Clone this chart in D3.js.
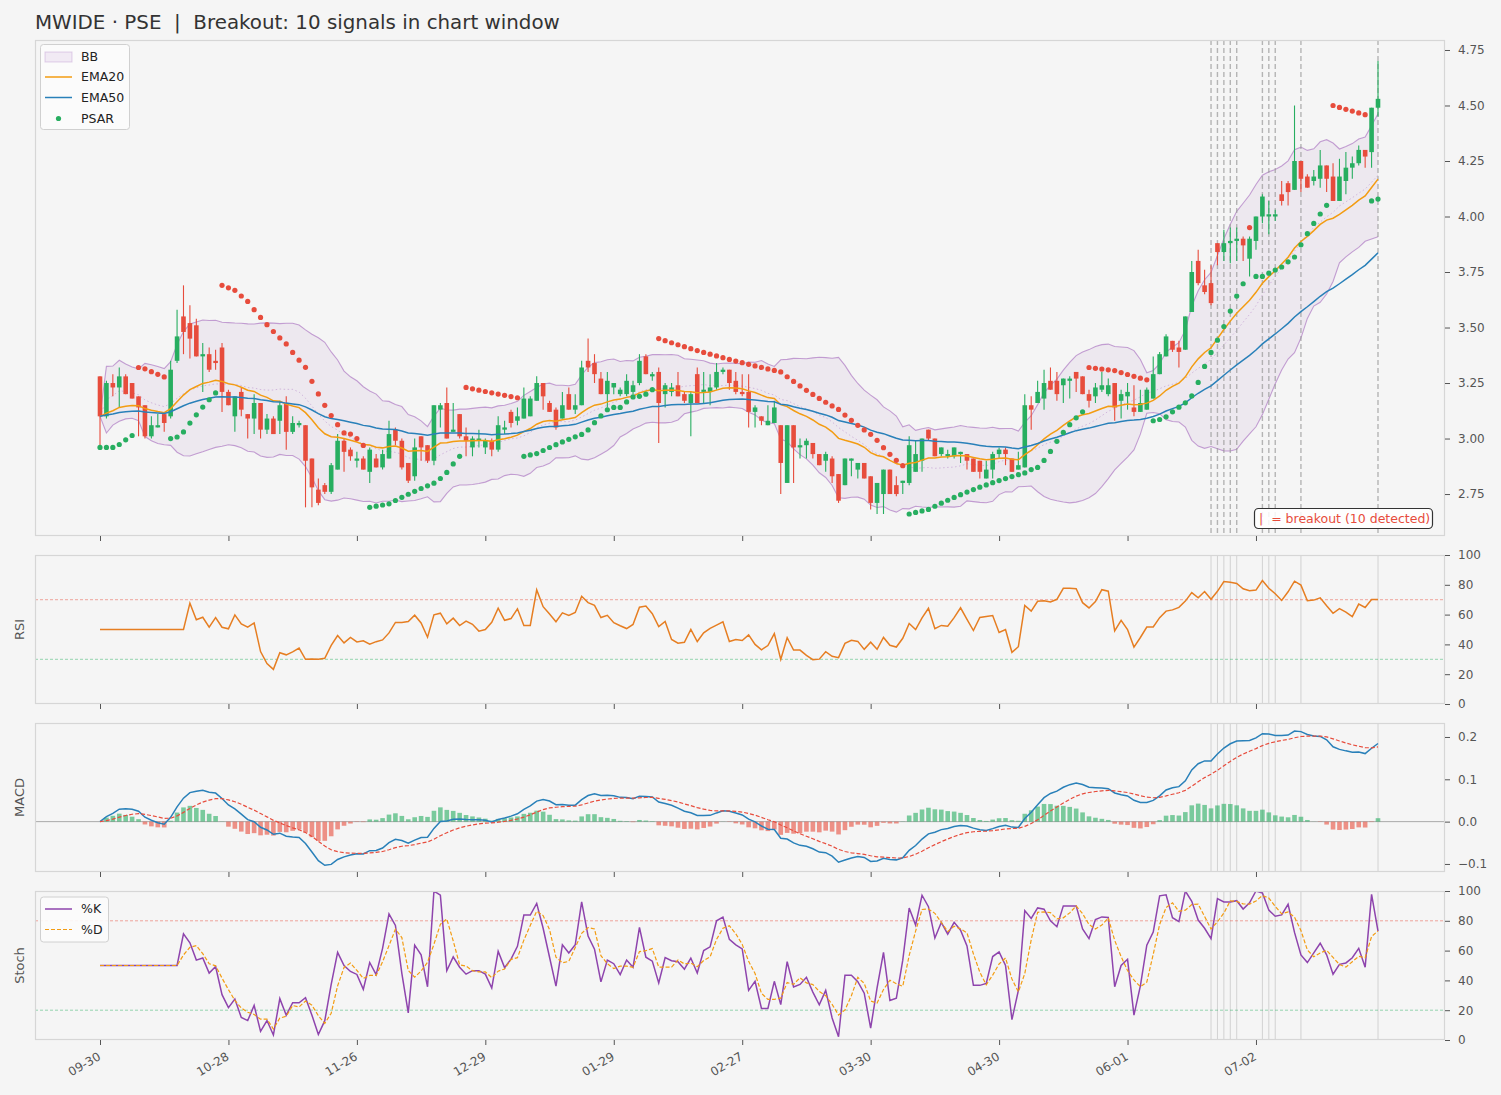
<!DOCTYPE html>
<html><head><meta charset="utf-8">
<script src="https://cdn.jsdelivr.net/npm/d3@7"></script>
<style>
body{margin:0;background:#f5f5f5;}
text{font-family:"DejaVu Sans","Liberation Sans",sans-serif;white-space:pre;}
</style>
</head><body>
<svg id="c" width="1501" height="1095"></svg>
<script>
// ---------- DATA ----------
const opens = [3.28,3.10,3.25,3.23,3.28,3.25,3.19,3.15,3.01,3.05,3.11,3.10,3.35,3.55,3.52,3.51,3.37,3.38,3.35,3.41,
3.21,3.10,3.21,3.11,3.09,3.16,3.04,3.09,3.08,3.16,3.03,3.06,3.06,2.91,2.77,2.79,2.76,2.86,2.99,2.95,
2.90,2.91,2.85,2.91,2.87,2.91,3.04,2.99,2.89,2.83,3.01,2.97,2.90,3.13,3.16,3.03,3.11,3.01,2.96,2.99,
2.96,2.99,2.95,3.04,3.12,3.08,3.09,3.10,3.17,3.25,3.16,3.13,3.09,3.20,3.13,3.15,3.35,3.34,3.27,3.20,
3.23,3.20,3.20,3.21,3.25,3.37,3.28,3.30,3.20,3.21,3.24,3.20,3.16,3.29,3.21,3.21,3.23,3.30,3.31,3.26,
3.21,3.21,3.12,3.10,3.06,3.07,3.06,2.80,3.06,2.96,2.97,2.98,2.93,2.90,2.91,2.84,2.79,2.90,2.86,2.89,
2.83,2.71,2.75,2.86,2.79,2.80,2.80,2.85,2.90,3.04,3.00,2.93,2.92,2.92,2.93,2.93,2.91,2.90,2.82,2.86,
2.93,2.95,2.91,2.86,2.87,3.15,3.16,3.18,3.26,3.26,3.24,3.26,3.30,3.28,3.20,3.19,3.22,3.20,3.25,3.17,
3.19,3.14,3.12,3.13,3.18,3.29,3.37,3.44,3.41,3.40,3.57,3.80,3.69,3.70,3.88,3.84,3.88,3.89,3.90,3.81,
3.89,4.00,4.00,4.00,4.10,4.15,4.12,4.25,4.18,4.16,4.17,4.23,4.18,4.07,4.16,4.22,4.24,4.30,4.29,4.49];
const highs = [3.28,3.26,3.29,3.32,3.29,3.25,3.19,3.15,3.10,3.11,3.11,3.35,3.58,3.69,3.60,3.54,3.43,3.41,3.40,3.43,
3.22,3.19,3.23,3.11,3.20,3.16,3.11,3.10,3.17,3.19,3.10,3.08,3.06,2.91,2.82,2.80,2.89,3.02,3.00,2.96,
2.94,2.92,2.96,2.93,2.95,3.08,3.05,3.00,2.89,3.00,3.01,2.97,3.15,3.16,3.23,3.16,3.11,3.05,3.01,3.04,
3.00,3.00,3.10,3.08,3.13,3.14,3.23,3.19,3.28,3.25,3.17,3.14,3.21,3.23,3.20,3.35,3.45,3.38,3.30,3.30,
3.25,3.23,3.29,3.26,3.38,3.38,3.30,3.32,3.25,3.25,3.30,3.21,3.21,3.32,3.30,3.29,3.34,3.32,3.31,3.30,
3.29,3.29,3.15,3.10,3.15,3.17,3.06,3.06,3.06,3.00,3.00,2.98,2.93,2.94,2.92,2.84,2.91,2.91,2.89,2.89,
2.83,2.80,2.86,2.86,2.83,2.81,3.01,2.99,3.00,3.04,3.00,2.96,2.95,2.96,2.94,2.93,2.91,2.90,2.90,2.94,
2.96,2.96,2.91,2.94,3.20,3.19,3.26,3.31,3.32,3.30,3.27,3.28,3.30,3.28,3.22,3.25,3.30,3.27,3.25,3.22,
3.25,3.24,3.22,3.23,3.37,3.39,3.47,3.44,3.44,3.55,3.80,3.85,3.76,3.78,3.88,3.94,3.95,3.95,3.91,3.91,
4.00,4.10,4.07,4.03,4.16,4.16,4.50,4.25,4.19,4.21,4.30,4.23,4.24,4.26,4.29,4.27,4.32,4.30,4.49,4.70];
const lows = [2.96,3.09,3.19,3.14,3.20,3.18,3.01,3.00,3.00,3.05,3.03,3.09,3.34,3.38,3.36,3.37,3.21,3.30,3.31,3.12,
3.15,3.03,3.10,3.00,3.02,3.00,3.02,3.02,3.02,2.95,3.02,3.05,2.69,2.69,2.70,2.75,2.75,2.86,2.85,2.90,
2.87,2.86,2.80,2.87,2.86,2.91,2.97,2.86,2.80,2.81,2.90,2.89,2.88,3.05,3.00,3.03,3.00,2.92,2.92,2.96,
2.93,2.92,2.94,3.02,3.05,3.06,3.09,3.10,3.17,3.13,3.12,3.04,3.09,3.13,3.11,3.15,3.30,3.25,3.20,3.14,
3.20,3.19,3.19,3.20,3.24,3.29,3.26,2.98,3.14,3.19,3.19,3.16,3.01,3.16,3.16,3.15,3.22,3.29,3.22,3.20,
3.19,3.05,3.05,3.06,3.06,3.07,2.75,2.80,2.80,2.91,2.91,2.91,2.88,2.85,2.80,2.71,2.79,2.83,2.82,2.82,
2.68,2.66,2.66,2.75,2.74,2.75,2.79,2.85,2.85,2.99,2.92,2.92,2.91,2.91,2.89,2.86,2.85,2.82,2.82,2.82,
2.91,2.88,2.85,2.86,2.87,3.04,3.16,3.13,3.22,3.17,3.16,3.18,3.21,3.20,3.14,3.16,3.21,3.19,3.08,3.09,
3.13,3.10,3.12,3.13,3.18,3.29,3.37,3.39,3.32,3.40,3.57,3.69,3.65,3.60,3.78,3.80,3.79,3.80,3.80,3.73,
3.85,3.97,3.92,3.98,4.05,4.05,4.12,4.11,4.13,4.14,4.13,4.11,4.07,4.07,4.10,4.17,4.23,4.22,4.22,4.45];
const closes = [3.10,3.25,3.23,3.28,3.20,3.18,3.14,3.01,3.06,3.06,3.07,3.31,3.46,3.48,3.45,3.37,3.38,3.31,3.34,3.21,
3.15,3.19,3.13,3.09,3.16,3.04,3.09,3.02,3.15,3.03,3.07,3.07,2.90,2.78,2.71,2.76,2.88,2.99,2.94,2.92,
2.91,2.86,2.95,2.87,2.93,3.02,2.99,2.87,2.81,2.96,2.96,2.90,3.15,3.15,3.00,3.04,3.01,2.99,3.00,3.00,
2.99,2.95,3.06,3.05,3.07,3.10,3.18,3.18,3.25,3.19,3.12,3.05,3.15,3.13,3.15,3.32,3.32,3.29,3.20,3.26,
3.25,3.22,3.26,3.24,3.35,3.29,3.29,3.16,3.24,3.23,3.19,3.17,3.20,3.16,3.22,3.23,3.30,3.31,3.25,3.21,
3.20,3.12,3.14,3.08,3.08,3.14,2.89,3.06,2.96,2.97,2.99,2.93,2.88,2.93,2.83,2.72,2.91,2.91,2.89,2.82,
2.71,2.80,2.86,2.75,2.75,2.81,2.97,2.93,3.00,3.00,2.92,2.96,2.93,2.96,2.94,2.90,2.85,2.85,2.86,2.93,
2.95,2.93,2.85,2.88,3.15,3.13,3.21,3.25,3.22,3.20,3.27,3.27,3.27,3.20,3.17,3.23,3.24,3.24,3.14,3.20,
3.21,3.12,3.16,3.22,3.29,3.38,3.46,3.40,3.39,3.55,3.75,3.70,3.66,3.61,3.84,3.88,3.89,3.90,3.87,3.90,
4.00,4.09,4.01,4.01,4.07,4.11,4.25,4.17,4.13,4.18,4.23,4.17,4.07,4.18,4.22,4.24,4.30,4.27,4.49,4.53];
const breakoutIdx = [173,174,175,176,177,181,182,183,187,199];
const xTickIdx = [0,20,40,60,80,100,120,140,160,180];
const xTickLabels = ["09-30","10-28","11-26","12-29","01-29","02-27","03-30","04-30","06-01","07-02"];
const priceTicks = [2.75,3.00,3.25,3.50,3.75,4.00,4.25,4.50,4.75];
const pctTicks = [0,20,40,60,80,100];
const macdTicks = [-0.1,0.0,0.1,0.2];
const titleText = "MWIDE · PSE  |  Breakout: 10 signals in chart window";

// ---------- INDICATORS (derived from the OHLC above) ----------
const n = closes.length;
function ema(arr, span){const a=2/(span+1);const out=[arr[0]];for(let i=1;i<arr.length;i++)out.push(a*arr[i]+(1-a)*out[i-1]);return out;}
const ema20 = ema(closes,20), ema50 = ema(closes,50);
const bbMid=[],bbUp=[],bbLo=[];
for(let i=0;i<n;i++){const s=closes.slice(Math.max(0,i-19),i+1);const m=d3.mean(s);const sd=Math.sqrt(d3.mean(s,v=>(v-m)*(v-m)));bbMid.push(m);bbUp.push(m+2*sd);bbLo.push(m-2*sd);}
const rsi = closes.map((c,i)=>{if(i<14)return 50;let g=0,l=0;for(let j=i-13;j<=i;j++){const d=closes[j]-closes[j-1];if(d>0)g+=d;else l-=d;}if(g+l===0)return 50;if(l===0)return 100;return 100-100/(1+g/l);});
const e12=ema(closes,12), e26=ema(closes,26);
const macd = e12.map((v,i)=>v-e26[i]);
const sig = ema(macd,9);
const hist = macd.map((v,i)=>v-sig[i]);
const kLine = closes.map((c,i)=>{if(i<13)return 50;const hh=d3.max(highs.slice(i-13,i+1)),ll=d3.min(lows.slice(i-13,i+1));return hh===ll?50:100*(c-ll)/(hh-ll);});
const dLine = kLine.map((v,i)=>i<2?50:(kLine[i]+kLine[i-1]+kLine[i-2])/3);
const psar=[],psBull=[];
(function(){let bull=true,af=0.02,ep=highs[0];psar.push(lows[0]);psBull.push(true);
for(let i=1;i<n;i++){let p=psar[i-1]+af*(ep-psar[i-1]);
 if(bull){p=Math.min(p,lows[i-1],i>=2?lows[i-2]:lows[i-1]);
  if(lows[i]<p){bull=false;p=ep;ep=lows[i];af=0.02;}
  else if(highs[i]>ep){ep=highs[i];af=Math.min(af+0.02,0.2);}}
 else{p=Math.max(p,highs[i-1],i>=2?highs[i-2]:highs[i-1]);
  if(highs[i]>p){bull=true;p=ep;ep=highs[i];af=0.02;}
  else if(lows[i]<ep){ep=lows[i];af=Math.min(af+0.02,0.2);}}
 psar.push(p);psBull.push(bull);}})();

// ---------- DRAW ----------
const GREEN="#27ae60", RED="#e74c3c", TXT="#555";
const L=35, R=1445;
const panels=[{t:40,b:536},{t:555,b:704},{t:723,b:872},{t:891,b:1040}];
const svg=d3.select("#c");
svg.append("rect").attr("width",1501).attr("height",1095).attr("fill","#f5f5f5");
const x=d3.scaleLinear().domain([0,n-1]).range([100,1378]);
const yP=d3.scaleLinear().domain([2.561,4.795]).range([panels[0].b,panels[0].t]);
const yR=d3.scaleLinear().domain([0,100]).range([panels[1].b,panels[1].t]);
const yM=d3.scaleLinear().domain([-0.119,0.233]).range([panels[2].b,panels[2].t]);
const yS=d3.scaleLinear().domain([0,100]).range([panels[3].b,panels[3].t]);
const defs=svg.append("defs");
panels.forEach((p,k)=>{defs.append("clipPath").attr("id","clip"+k).append("rect").attr("x",L).attr("y",p.t).attr("width",R-L).attr("height",p.b-p.t);});
const idx=d3.range(n);
const line=(arr,ys)=>d3.line().x(i=>x(i)).y(i=>ys(arr[i]))(idx);

// frames + axes
function frame(k,yScale,ticks,fmt){
  const p=panels[k];
  const ga=svg.append("g").attr("transform",`translate(${R},0)`)
    .call(d3.axisRight(yScale).tickValues(ticks).tickFormat(fmt).tickSize(5).tickPadding(8));
  ga.select(".domain").remove();
  ga.selectAll("line").attr("stroke",TXT);
  ga.selectAll("text").attr("fill",TXT).attr("font-size",12).attr("font-family","DejaVu Sans");
  const gx=svg.append("g").attr("transform",`translate(0,${p.b})`)
    .call(d3.axisBottom(x).tickValues(xTickIdx).tickFormat(k===3?(d,i)=>xTickLabels[i]:"").tickSize(5).tickPadding(3));
  gx.select(".domain").remove();
  gx.selectAll("line").attr("stroke",TXT);
  if(k===3){gx.selectAll("text").attr("fill",TXT).attr("font-size",12).attr("font-family","DejaVu Sans")
    .attr("text-anchor","end").attr("dy",null).attr("y",null)
    .attr("transform","translate(1,19) rotate(-30)");}
}
function box(k){const p=panels[k];svg.append("rect").attr("x",L+0.5).attr("y",p.t+0.5).attr("width",R-L-1).attr("height",p.b-p.t-1).attr("fill","none").attr("stroke","#d6d6d6").attr("stroke-width",1.2);}

// ---- price panel ----
const g0=svg.append("g").attr("clip-path","url(#clip0)");
const area=d3.area().x(i=>x(i)).y0(i=>yP(bbLo[i])).y1(i=>yP(bbUp[i]));
g0.append("path").attr("d",area(idx)).attr("fill","#9b59b6").attr("fill-opacity",0.08);
g0.append("path").attr("d",line(bbUp,yP)).attr("fill","none").attr("stroke","#9b59b6").attr("stroke-opacity",0.55).attr("stroke-width",1.1);
g0.append("path").attr("d",line(bbLo,yP)).attr("fill","none").attr("stroke","#9b59b6").attr("stroke-opacity",0.55).attr("stroke-width",1.1);
g0.append("path").attr("d",line(bbMid,yP)).attr("fill","none").attr("stroke","#9b59b6").attr("stroke-opacity",0.35).attr("stroke-width",1).attr("stroke-dasharray","1.5,2.5");
g0.selectAll("line.bo").data(breakoutIdx).join("line").attr("x1",i=>x(i)).attr("x2",i=>x(i)).attr("y1",panels[0].t).attr("y2",panels[0].b)
  .attr("stroke","#999").attr("stroke-opacity",0.7).attr("stroke-width",1.4).attr("stroke-dasharray","5,3");
const col=i=>closes[i]>=opens[i]?GREEN:RED;
g0.selectAll("line.wick").data(idx).join("line").attr("x1",i=>x(i)).attr("x2",i=>x(i)).attr("y1",i=>yP(highs[i])).attr("y2",i=>yP(lows[i])).attr("stroke",col).attr("stroke-width",1.1);
g0.selectAll("rect.body").data(idx).join("rect").attr("x",i=>x(i)-2.3).attr("width",4.6)
  .attr("y",i=>yP(Math.max(opens[i],closes[i]))).attr("height",i=>Math.max(1,Math.abs(yP(opens[i])-yP(closes[i])))).attr("fill",col);
g0.append("path").attr("d",line(ema20,yP)).attr("fill","none").attr("stroke","#f39c12").attr("stroke-width",1.5);
g0.append("path").attr("d",line(ema50,yP)).attr("fill","none").attr("stroke","#2980b9").attr("stroke-width",1.5);
g0.selectAll("circle.ps").data(idx).join("circle").attr("cx",i=>x(i)).attr("cy",i=>yP(psar[i])).attr("r",2.6).attr("fill",i=>psBull[i]?GREEN:RED);
box(0); frame(0,yP,priceTicks,d3.format(".2f"));
// legend
const lg=svg.append("g");
lg.append("rect").attr("x",40.5).attr("y",44.5).attr("width",89).attr("height",85).attr("rx",3).attr("fill","#fcfcfc").attr("fill-opacity",0.9).attr("stroke","#d0d0d0");
lg.append("rect").attr("x",45).attr("y",52).attr("width",27).attr("height",10).attr("fill","#9b59b6").attr("fill-opacity",0.1).attr("stroke","#9b59b6").attr("stroke-opacity",0.25);
lg.append("line").attr("x1",45).attr("x2",72).attr("y1",77).attr("y2",77).attr("stroke","#f39c12").attr("stroke-width",1.5);
lg.append("line").attr("x1",45).attr("x2",72).attr("y1",97.5).attr("y2",97.5).attr("stroke","#2980b9").attr("stroke-width",1.5);
lg.append("circle").attr("cx",58.5).attr("cy",118.5).attr("r",2.6).attr("fill",GREEN);
[["BB",57],["EMA20",77],["EMA50",97.5],["PSAR",118.5]].forEach(([t,yy])=>lg.append("text").attr("x",81).attr("y",yy).attr("dy","0.35em").attr("font-size",12.5).attr("fill","#222").text(t));
// breakout note
svg.append("rect").attr("x",1254.5).attr("y",508.5).attr("width",178).attr("height",20).attr("rx",4).attr("fill","#fff").attr("fill-opacity",0.85).attr("stroke","#333").attr("stroke-width",1.2);
svg.append("text").attr("x",1259).attr("y",518.5).attr("dy","0.35em").attr("font-size",12.5).attr("fill",RED).text("|  = breakout (10 detected)");

// ---- RSI ----
const g1=svg.append("g").attr("clip-path","url(#clip1)");
g1.selectAll("line.bo").data(breakoutIdx).join("line").attr("x1",i=>x(i)).attr("x2",i=>x(i)).attr("y1",panels[1].t).attr("y2",panels[1].b).attr("stroke","#bbb").attr("stroke-opacity",0.6).attr("stroke-width",1);
g1.append("line").attr("x1",L).attr("x2",R).attr("y1",yR(70)).attr("y2",yR(70)).attr("stroke",RED).attr("stroke-opacity",0.6).attr("stroke-width",0.8).attr("stroke-dasharray","3,2");
g1.append("line").attr("x1",L).attr("x2",R).attr("y1",yR(30)).attr("y2",yR(30)).attr("stroke",GREEN).attr("stroke-opacity",0.6).attr("stroke-width",0.8).attr("stroke-dasharray","3,2");
g1.append("path").attr("d",line(rsi,yR)).attr("fill","none").attr("stroke","#e67e22").attr("stroke-width",1.5);
box(1); frame(1,yR,pctTicks,d3.format("d"));

// ---- MACD ----
const g2=svg.append("g").attr("clip-path","url(#clip2)");
g2.selectAll("line.bo").data(breakoutIdx).join("line").attr("x1",i=>x(i)).attr("x2",i=>x(i)).attr("y1",panels[2].t).attr("y2",panels[2].b).attr("stroke","#bbb").attr("stroke-opacity",0.6).attr("stroke-width",1);
g2.append("line").attr("x1",L).attr("x2",R).attr("y1",yM(0)).attr("y2",yM(0)).attr("stroke","#aaa").attr("stroke-width",1);
g2.selectAll("rect.h").data(idx).join("rect").attr("x",i=>x(i)-2.3).attr("width",4.6)
  .attr("y",i=>yM(Math.max(0,hist[i]))).attr("height",i=>Math.abs(yM(hist[i])-yM(0))).attr("fill",i=>hist[i]>=0?GREEN:RED).attr("fill-opacity",0.6);
g2.append("path").attr("d",line(macd,yM)).attr("fill","none").attr("stroke","#2980b9").attr("stroke-width",1.5);
g2.append("path").attr("d",line(sig,yM)).attr("fill","none").attr("stroke",RED).attr("stroke-width",1.2).attr("stroke-dasharray","4,2");
box(2); frame(2,yM,macdTicks,d=>d3.format(".1f")(d).replace("-","\u2212"));

// ---- Stoch ----
const g3=svg.append("g").attr("clip-path","url(#clip3)");
g3.selectAll("line.bo").data(breakoutIdx).join("line").attr("x1",i=>x(i)).attr("x2",i=>x(i)).attr("y1",panels[3].t).attr("y2",panels[3].b).attr("stroke","#bbb").attr("stroke-opacity",0.6).attr("stroke-width",1);
g3.append("line").attr("x1",L).attr("x2",R).attr("y1",yS(80)).attr("y2",yS(80)).attr("stroke",RED).attr("stroke-opacity",0.6).attr("stroke-width",0.8).attr("stroke-dasharray","3,2");
g3.append("line").attr("x1",L).attr("x2",R).attr("y1",yS(20)).attr("y2",yS(20)).attr("stroke",GREEN).attr("stroke-opacity",0.6).attr("stroke-width",0.8).attr("stroke-dasharray","3,2");
g3.append("path").attr("d",line(kLine,yS)).attr("fill","none").attr("stroke","#8e44ad").attr("stroke-width",1.5);
g3.append("path").attr("d",line(dLine,yS)).attr("fill","none").attr("stroke","#f39c12").attr("stroke-width",1.2).attr("stroke-dasharray","4,2");
box(3); frame(3,yS,pctTicks,d3.format("d"));
const lg2=svg.append("g");
lg2.append("rect").attr("x",40.5).attr("y",897).attr("width",68).attr("height",45).attr("rx",3).attr("fill","#fcfcfc").attr("fill-opacity",0.9).attr("stroke","#d0d0d0");
lg2.append("line").attr("x1",45).attr("x2",72).attr("y1",909).attr("y2",909).attr("stroke","#8e44ad").attr("stroke-width",1.5);
lg2.append("line").attr("x1",45).attr("x2",72).attr("y1",929.5).attr("y2",929.5).attr("stroke","#f39c12").attr("stroke-width",1.2).attr("stroke-dasharray","4,2");
[["%K",909],["%D",929.5]].forEach(([t,yy])=>lg2.append("text").attr("x",81).attr("y",yy).attr("dy","0.35em").attr("font-size",12.5).attr("fill","#222").text(t));

// y labels
[["RSI",1],["MACD",2],["Stoch",3]].forEach(([t,k])=>{const p=panels[k];
  svg.append("text").attr("transform",`translate(24,${(p.t+p.b)/2}) rotate(-90)`).attr("text-anchor","middle").attr("font-size",13).attr("fill",TXT).text(t);});
// title
svg.append("text").attr("x",35).attr("y",28.5).attr("font-size",19.85).attr("fill","#333").text(titleText);
</script>
</body></html>
